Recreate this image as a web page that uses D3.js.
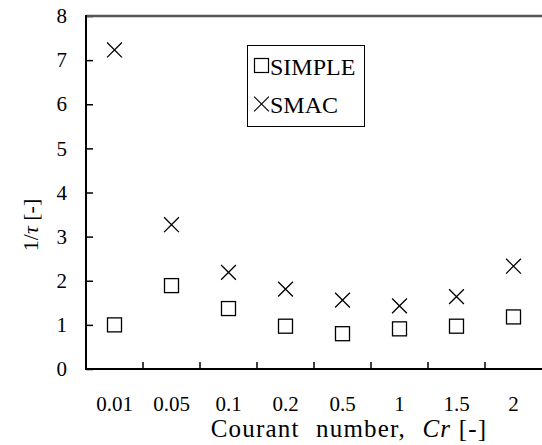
<!DOCTYPE html>
<html>
<head>
<meta charset="utf-8">
<script src="https://cdn.jsdelivr.net/npm/d3@7"></script>
<style>
  body { margin: 0; background: #fff; }
  svg text { font-family: "Liberation Serif", Tinos, "Times New Roman", Times, serif; fill: #000; }
</style>
</head>
<body>
<svg width="542" height="445"></svg>
<script>
// data
const courant = ["0.01", "0.05", "0.1", "0.2", "0.5", "1", "1.5", "2"];
const simple = [1.0, 1.89, 1.37, 0.97, 0.8, 0.91, 0.97, 1.18];
const smac = [7.23, 3.27, 2.19, 1.81, 1.56, 1.43, 1.64, 2.33];
const yTicks = [0, 1, 2, 3, 4, 5, 6, 7, 8];

const svg = d3.select("svg");
const plotL = 86, plotR = 542, plotT = 16, plotB = 369;

const x = d3.scaleBand().domain(courant).range([plotL, plotR]);
const y = d3.scaleLinear().domain([0, 8]).range([plotB, plotT]);

// y axis, ticks pointing inward
const yAxis = svg.append("g")
  .attr("transform", `translate(${plotL},0)`)
  .call(d3.axisLeft(y).tickValues(yTicks).tickSizeInner(-7).tickSizeOuter(0).tickPadding(19));
yAxis.attr("font-family", null).attr("font-size", null);
yAxis.select(".domain").remove();
yAxis.selectAll("line").attr("stroke", "#000").attr("stroke-width", 1.5);
yAxis.selectAll("text").style("font-size", "21px");

// x axis labels at band centres
const xAxis = svg.append("g")
  .attr("transform", `translate(0,${plotB})`)
  .call(d3.axisBottom(x).tickSize(0).tickPadding(27));
xAxis.attr("font-family", null).attr("font-size", null);
xAxis.select(".domain").remove();
xAxis.selectAll("text").style("font-size", "21px");

// x ticks at band boundaries, pointing up
svg.append("g").selectAll("line")
  .data(courant.slice(1))
  .join("line")
  .attr("x1", d => x(d)).attr("x2", d => x(d))
  .attr("y1", plotB).attr("y2", plotB - 7)
  .attr("stroke", "#000").attr("stroke-width", 1.5);

// frame
svg.append("line").attr("x1", plotL).attr("x2", plotR).attr("y1", plotT).attr("y2", plotT)
  .attr("stroke", "#555").attr("stroke-width", 2.5);
svg.append("line").attr("x1", plotL).attr("x2", plotL).attr("y1", plotT - 1).attr("y2", plotB + 1)
  .attr("stroke", "#000").attr("stroke-width", 2);
svg.append("line").attr("x1", plotL - 1).attr("x2", plotR).attr("y1", plotB).attr("y2", plotB)
  .attr("stroke", "#000").attr("stroke-width", 2);

const cx = (d, i) => x(courant[i]) + x.bandwidth() / 2;

// SIMPLE squares
svg.append("g").selectAll("rect")
  .data(simple)
  .join("rect")
  .attr("x", (d, i) => cx(d, i) - 7)
  .attr("y", d => y(d) - 7)
  .attr("width", 14).attr("height", 14)
  .attr("fill", "none").attr("stroke", "#000").attr("stroke-width", 1.3);

// SMAC crosses
const cross = d3.symbol().type(d3.symbolX).size(145);
svg.append("g").selectAll("path")
  .data(smac)
  .join("path")
  .attr("d", cross)
  .attr("transform", (d, i) => `translate(${cx(d, i)},${y(d)})`)
  .attr("fill", "none").attr("stroke", "#000").attr("stroke-width", 1.3);

// legend
const lg = svg.append("g");
lg.append("rect").attr("x", 247.5).attr("y", 45.5).attr("width", 117).attr("height", 81)
  .attr("fill", "#fff").attr("stroke", "#000").attr("stroke-width", 1);
lg.append("rect").attr("x", 254.5).attr("y", 58.5).attr("width", 14).attr("height", 14)
  .attr("fill", "none").attr("stroke", "#000").attr("stroke-width", 1.2);
lg.append("path").attr("d", cross).attr("transform", "translate(261.5,104)")
  .attr("fill", "none").attr("stroke", "#000").attr("stroke-width", 1.2);
lg.append("text").attr("x", 270).attr("y", 75).style("font-size", "24px").text("SIMPLE");
lg.append("text").attr("x", 270).attr("y", 113).style("font-size", "24px").text("SMAC");

// axis titles
const xt = svg.append("text").attr("x", 349).attr("y", 437).attr("text-anchor", "middle")
  .style("font-size", "25px").style("letter-spacing", "1.2px").style("word-spacing", "9px");
xt.append("tspan").text("Courant number, ");
xt.append("tspan").style("font-style", "italic").text("Cr");
xt.append("tspan").style("word-spacing", "0px").text(" [-]");

const yt = svg.append("text").attr("transform", "translate(30,225) rotate(-90)")
  .attr("text-anchor", "middle").attr("dy", "0.35em").style("font-size", "22px");
yt.append("tspan").text("1/");
yt.append("tspan").style("font-style", "italic").text("τ");
yt.append("tspan").text(" [-]");
</script>
</body>
</html>
